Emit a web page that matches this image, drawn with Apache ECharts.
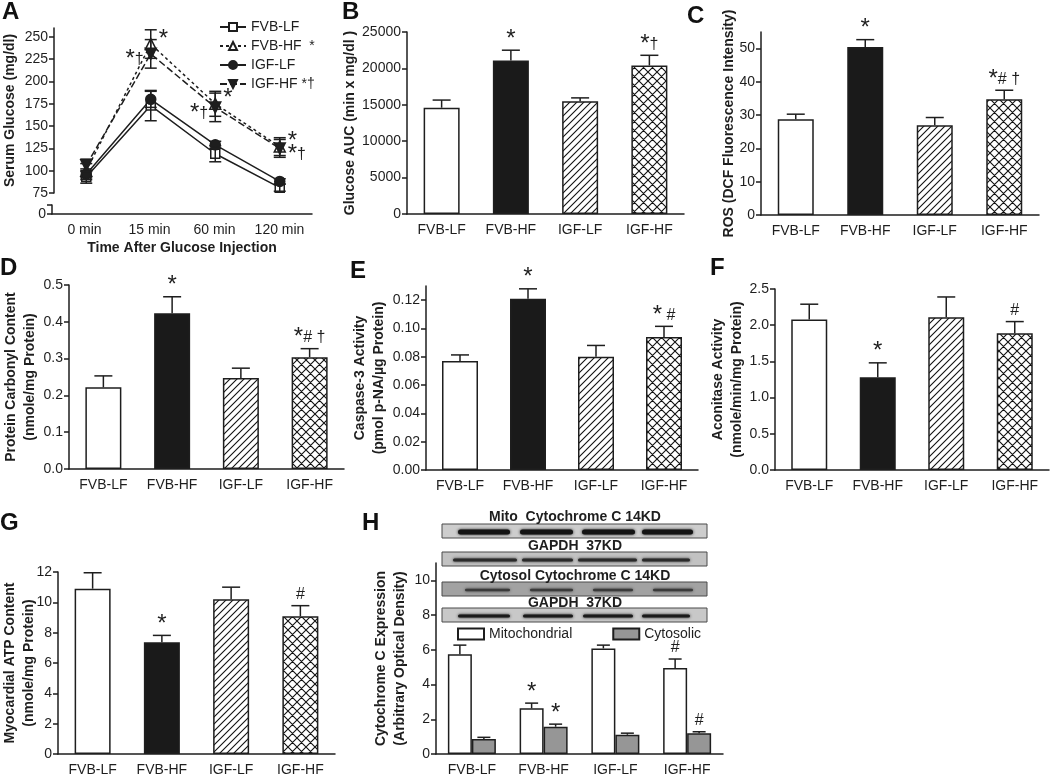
<!DOCTYPE html>
<html>
<head>
<meta charset="utf-8">
<title>Glucose tolerance, oxidative stress and cytochrome C panels</title>
<script src="https://cdn.jsdelivr.net/npm/echarts@6.0.0/dist/echarts.min.js"></script>
<style>
  html, body { margin: 0; padding: 0; background: #fff; }
  #main { width: 1050px; height: 777px; }
</style>
</head>
<body>
<div id="main"></div>
<script>
// groups / tick labels
var groups = ['FVB-LF', 'FVB-HF', 'IGF-LF', 'IGF-HF'];
var times = ['0 min', '15 min', '60 min', '120 min'];

// A - serum glucose (mg/dl), mean and SEM
var gttFvbLf = [93, 173, 119, 81];
var gttFvbLfErr = [7, 17, 9, 4];
var gttFvbHf = [100, 242, 175, 127];
var gttFvbHfErr = [8, 16, 14, 10];
var gttIgfLf = [96, 180, 129, 88];
var gttIgfLfErr = [6, 9, 4, 3];
var gttIgfHf = [106, 231, 171, 125];
var gttIgfHfErr = [7, 16, 16, 10];
var gttFvbHfMarks = ['', '*', '*', '*'];
var gttIgfHfMarks = ['', '*†', '*†', '*†'];
var gttTicks = [75, 100, 125, 150, 175, 200, 225, 250];

// B - glucose AUC
var aucVals = [14600, 21100, 15500, 20400];
var aucErr = [1050, 1400, 450, 1400];
var aucMarks = ['', '*', '', '*†'];
var aucTicks = [0, 5000, 10000, 15000, 20000, 25000];

// C - ROS
var rosVals = [28.8, 50.5, 27.0, 34.8];
var rosErr = [1.5, 2.2, 2.3, 2.7];
var rosMarks = ['', '*', '', '*# †'];
var rosTicks = [0, 10, 20, 30, 40, 50];

// D - protein carbonyl
var carbVals = [0.222, 0.423, 0.247, 0.304];
var carbErr = [0.031, 0.045, 0.027, 0.023];
var carbMarks = ['', '*', '', '*# †'];
var carbTicks = [0, 0.1, 0.2, 0.3, 0.4, 0.5];

// E - caspase-3
var caspVals = [0.077, 0.121, 0.080, 0.094];
var caspErr = [0.0043, 0.007, 0.008, 0.0075];
var caspMarks = ['', '*', '', '* #'];
var caspTicks = [0, 0.02, 0.04, 0.06, 0.08, 0.10, 0.12];

// F - aconitase
var aconVals = [2.08, 1.28, 2.11, 1.89];
var aconErr = [0.21, 0.20, 0.28, 0.16];
var aconMarks = ['', '*', '', '#'];
var aconTicks = [0, 0.5, 1.0, 1.5, 2.0, 2.5];

// G - ATP
var atpVals = [10.9, 7.36, 10.2, 9.08];
var atpErr = [1.05, 0.46, 0.8, 0.7];
var atpMarks = ['', '*', '', '#'];
var atpTicks = [0, 2, 4, 6, 8, 10, 12];

// H - cytochrome C
var cytMito = [5.75, 2.63, 6.08, 4.95];
var cytMitoErr = [0.52, 0.30, 0.19, 0.52];
var cytCyto = [0.86, 1.57, 1.11, 1.19];
var cytCytoErr = [0.10, 0.15, 0.09, 0.09];
var cytMitoMarks = ['', '*', '', '#'];
var cytCytoMarks = ['', '*', '', '#'];
var cytTicks = [0, 2, 4, 6, 8, 10];

var ink = '#1e1e1e';
var font = 'Liberation Sans, Arial, Helvetica, sans-serif';
// the asterisk is drawn bigger than the # and dagger
var markRich = {
    s: { fontSize: 24, lineHeight: 18, fontFamily: font, fill: ink, color: ink, verticalAlign: 'middle' },
    n: { fontSize: 16, lineHeight: 18, fontFamily: font, fill: ink, color: ink, verticalAlign: 'middle' }
};
function markText(m) {
    return m.split('').map(function (c) { return c === '*' ? '{s|*}' : '{n|' + c + '}'; }).join('');
}

// hatch patterns for the IGF bars
function hatch(s, cross) {
    var c = document.createElement('canvas');
    c.width = s; c.height = s;
    var g = c.getContext('2d');
    g.fillStyle = '#fff'; g.fillRect(0, 0, s, s);
    g.strokeStyle = '#111'; g.lineWidth = 1.1;
    g.beginPath();
    g.moveTo(-1, s + 1); g.lineTo(s + 1, -1);
    g.moveTo(-1, 1); g.lineTo(1, -1);
    g.moveTo(s - 1, s + 1); g.lineTo(s + 1, s - 1);
    if (cross) {
        g.moveTo(-1, -1); g.lineTo(s + 1, s + 1);
        g.moveTo(s - 1, -1); g.lineTo(s + 1, 1);
        g.moveTo(-1, s - 1); g.lineTo(1, s + 1);
    }
    g.stroke();
    return c;
}
var fills = ['#ffffff', '#1a1a1a',
    { image: hatch(7, false), repeat: 'repeat' },
    { image: hatch(9, true), repeat: 'repeat' }];

function valueAxis(gi, min, max, ticks, fmt, name, gap, ticksOnly) {
    return {
        type: 'value', gridIndex: gi, min: min, max: max,
        splitLine: { show: false },
        axisLine: { show: true, lineStyle: { color: ink, width: 1.5 } },
        axisTick: { show: true, length: 5, customValues: ticksOnly || ticks, lineStyle: { color: ink, width: 1.5 } },
        axisLabel: { color: ink, fontSize: 14, margin: 6, customValues: ticks,
                     formatter: fmt || function (v) { return String(v); } },
        name: name, nameLocation: 'middle', nameRotate: 90, nameGap: gap, nameMoveOverlap: false,
        nameTextStyle: { color: ink, fontSize: 14, fontWeight: 'bold', lineHeight: 19 }
    };
}
function catAxis(gi, cats, show) {
    return {
        type: 'category', gridIndex: gi, data: cats, show: show !== false,
        axisLine: { lineStyle: { color: ink, width: 1.5 } },
        axisTick: { alignWithLabel: true, length: 6, lineStyle: { color: ink, width: 1.5 } },
        axisLabel: { color: ink, fontSize: 14, margin: 9 }
    };
}
function barSeries(gi, vals) {
    return {
        type: 'bar', xAxisIndex: gi, yAxisIndex: gi, barWidth: 36, silent: true,
        itemStyle: { borderColor: ink, borderWidth: 1.5 },
        data: vals.map(function (v, i) { return { value: v, itemStyle: { color: fills[i] } }; })
    };
}
function errSeries(gi, vals, errs, marks, dx, cap, both) {
    return {
        type: 'custom', xAxisIndex: gi, yAxisIndex: gi, silent: true, z: 4,
        data: vals.map(function (v, i) { return [i, v, errs[i]]; }),
        encode: { x: 0, y: 1 },
        renderItem: function (params, api) {
            var i = api.value(0), v = api.value(1), e = api.value(2);
            var hi = api.coord([i, v + e]);
            var lo = api.coord([i, both ? v - e : v]);
            var x = hi[0] + dx;
            var kids = [
                { type: 'line', shape: { x1: x, y1: lo[1], x2: x, y2: hi[1] }, style: { stroke: ink, lineWidth: 1.5 } },
                { type: 'line', shape: { x1: x - cap, y1: hi[1], x2: x + cap, y2: hi[1] }, style: { stroke: ink, lineWidth: 1.5 } }
            ];
            if (both) {
                kids.push({ type: 'line', shape: { x1: x - cap, y1: lo[1], x2: x + cap, y2: lo[1] }, style: { stroke: ink, lineWidth: 1.5 } });
            }
            var m = marks ? marks[params.dataIndex] : '';
            if (m) {
                kids.push({ type: 'text', style: { text: markText(m), rich: markRich, x: x, y: hi[1] - 2,
                    align: 'center', verticalAlign: 'bottom', textAlign: 'center', textVerticalAlign: 'bottom',
                    font: '16px ' + font, fill: ink } });
            }
            return { type: 'group', children: kids };
        }
    };
}
// significance marks beside the glucose curve points
function gttMarks(vals, marks, leftSide) {
    return {
        type: 'custom', xAxisIndex: 0, yAxisIndex: 0, silent: true, z: 6,
        data: vals.map(function (v, i) { return [i, v]; }),
        encode: { x: 0, y: 1 },
        renderItem: function (params, api) {
            var i = params.dataIndex;
            var m = marks[i];
            if (!m) return;
            var p = api.coord([api.value(0), api.value(1)]);
            var left = leftSide && i < vals.length - 1;
            var x = left ? p[0] - 7 : p[0] + 8;
            var y = leftSide ? p[1] + 6 : p[1] - 5;
            return { type: 'text', style: { text: markText(m), rich: markRich, x: x, y: y,
                align: left ? 'right' : 'left', verticalAlign: 'middle',
                textAlign: left ? 'right' : 'left', textVerticalAlign: 'middle', font: '16px ' + font, fill: ink } };
        }
    };
}

var grids = [
    { left: 52, top: 28, width: 260, height: 165 },   // A
    { left: 52, top: 205, width: 260, height: 9 },    // A, axis below break
    { left: 407, top: 32, width: 277, height: 182 },  // B
    { left: 761, top: 32, width: 278, height: 183 },  // C
    { left: 69, top: 285, width: 275, height: 184 },  // D
    { left: 426, top: 286, width: 272, height: 184 }, // E
    { left: 775, top: 289, width: 274, height: 181 }, // F
    { left: 58, top: 572, width: 277, height: 182 },  // G
    { left: 436, top: 563, width: 287, height: 192 }  // H
];

var f1 = function (v) { return v.toFixed(1); };
var f2 = function (v) { return v.toFixed(2); };

var xAxes = [catAxis(0, times, false), catAxis(1, times)];
xAxes[1].name = 'Time After Glucose Injection';
xAxes[1].nameLocation = 'middle';
xAxes[1].nameGap = 27;
xAxes[1].nameTextStyle = { color: ink, fontSize: 14, fontWeight: 'bold' };
for (var g = 2; g <= 8; g++) xAxes.push(catAxis(g, groups));

var yAxes = [
    valueAxis(0, 75, 260, gttTicks, null, 'Serum Glucose (mg/dl)', 34),
    valueAxis(1, 0, 1, [0], null, '', 0, [0, 1]),
    valueAxis(2, 0, 25000, aucTicks, null, 'Glucose AUC (min x mg/dl )', 47),
    valueAxis(3, 0, 55, rosTicks, null, 'ROS (DCF Fluorescence Intensity)', 22),
    valueAxis(4, 0, 0.5, carbTicks, f1, 'Protein Carbonyl Content\n(nmole/mg Protein)', 29),
    valueAxis(5, 0, 0.13, caspTicks, f2, 'Caspase-3 Activity\n(pmol p-NA/µg Protein)', 37),
    valueAxis(6, 0, 2.5, aconTicks, f1, 'Aconitase Activity\n(nmole/min/mg Protein)', 28),
    valueAxis(7, 0, 12, atpTicks, null, 'Myocardial ATP Content\n(nmole/mg Protein)', 19),
    valueAxis(8, 0, 11, cytTicks, null, 'Cytochrome C Expression\n(Arbitrary Optical Density)', 26)
];

function lineSeries(name, data, symbol, fill, dash, size, rot) {
    return {
        name: name, type: 'line', xAxisIndex: 0, yAxisIndex: 0, data: data,
        symbol: symbol, symbolSize: size, symbolRotate: rot || 0, z: 3,
        itemStyle: { color: fill, borderColor: ink, borderWidth: 1.5 },
        lineStyle: { color: ink, width: 1.5, type: dash }
    };
}

var series = [
    lineSeries('FVB-LF', gttFvbLf, 'rect', '#fff', 'solid', 9),
    lineSeries('FVB-HF', gttFvbHf, 'triangle', '#fff', [3, 3], 11),
    lineSeries('IGF-LF', gttIgfLf, 'circle', ink, 'solid', 10),
    lineSeries('IGF-HF', gttIgfHf, 'triangle', ink, [7, 3], 11, 180),
    errSeries(0, gttFvbLf, gttFvbLfErr, null, 0, 6, true),
    errSeries(0, gttFvbHf, gttFvbHfErr, null, 0, 6, true),
    errSeries(0, gttIgfLf, gttIgfLfErr, null, 0, 6, true),
    errSeries(0, gttIgfHf, gttIgfHfErr, null, 0, 6, true),
    gttMarks(gttFvbHf, gttFvbHfMarks, false),
    gttMarks(gttIgfHf, gttIgfHfMarks, true),

    barSeries(2, aucVals), errSeries(2, aucVals, aucErr, aucMarks, 0, 9),
    barSeries(3, rosVals), errSeries(3, rosVals, rosErr, rosMarks, 0, 9),
    barSeries(4, carbVals), errSeries(4, carbVals, carbErr, carbMarks, 0, 9),
    barSeries(5, caspVals), errSeries(5, caspVals, caspErr, caspMarks, 0, 9),
    barSeries(6, aconVals), errSeries(6, aconVals, aconErr, aconMarks, 0, 9),
    barSeries(7, atpVals), errSeries(7, atpVals, atpErr, atpMarks, 0, 9),

    { name: 'Mitochondrial', type: 'bar', xAxisIndex: 8, yAxisIndex: 8, barWidth: 24, barGap: '0%', silent: true,
      data: cytMito, itemStyle: { color: '#fff', borderColor: ink, borderWidth: 1.5 } },
    { name: 'Cytosolic', type: 'bar', xAxisIndex: 8, yAxisIndex: 8, barWidth: 24, barGap: '0%', silent: true,
      data: cytCyto, itemStyle: { color: '#969696', borderColor: ink, borderWidth: 1.5 } },
    errSeries(8, cytMito, cytMitoErr, cytMitoMarks, -12, 6.5),
    errSeries(8, cytCyto, cytCytoErr, cytCytoMarks, 12, 6.5)
];

var legendMarks = { 'FVB-HF': '  *', 'IGF-HF': ' *†' };

// panel letters + western blot strips of panel H
var letters = [['A', 2, 0], ['B', 342, 0], ['C', 687, 4], ['D', 0, 256], ['E', 350, 259],
               ['F', 710, 256], ['G', 0, 511], ['H', 362, 511]];
var blots = [
    { title: 'Mito  Cytochrome C 14KD', titleY: 517, top: 524, bg: '#cdcdcd', band: '#141414', h: 5,
      lanes: [[458, 510], [520, 573], [582, 635], [642, 693]] },
    { title: 'GAPDH  37KD', titleY: 546, top: 552, bg: '#c2c2c2', band: '#2a2a2a', h: 3,
      lanes: [[453, 517], [522, 573], [578, 637], [642, 690]] },
    { title: 'Cytosol Cytochrome C 14KD', titleY: 576, top: 582, bg: '#a2a2a2', band: '#3a3a3a', h: 2.5,
      lanes: [[465, 510], [530, 573], [593, 633], [653, 693]] },
    { title: 'GAPDH  37KD', titleY: 603, top: 608, bg: '#c8c8c8', band: '#1a1a1a', h: 3,
      lanes: [[458, 510], [523, 573], [583, 633], [642, 690]] }
];
var graphics = [];
letters.forEach(function (l) {
    graphics.push({ type: 'text', x: l[1], y: l[2], z: 10,
        style: { text: l[0], font: 'bold 24px ' + font, fill: '#111', verticalAlign: 'top', textVerticalAlign: 'top' } });
});
blots.forEach(function (b) {
    graphics.push({ type: 'rect', z: 10, shape: { x: 442, y: b.top, width: 265, height: 14 },
        style: { fill: b.bg, stroke: '#4a4a4a', lineWidth: 1 } });
    b.lanes.forEach(function (ln) {
        graphics.push({ type: 'rect', z: 11, shape: { x: ln[0], y: b.top + 8 - b.h / 2, width: ln[1] - ln[0], height: b.h, r: b.h / 2 },
            style: { fill: b.band, shadowBlur: 3, shadowColor: b.band } });
    });
    graphics.push({ type: 'text', z: 11, x: 575, y: b.titleY,
        style: { text: b.title, font: 'bold 14px ' + font, fill: ink, align: 'center', verticalAlign: 'middle',
                 textAlign: 'center', textVerticalAlign: 'middle' } });
});

var chart = echarts.init(document.getElementById('main'));
chart.setOption({
    animation: false,
    backgroundColor: '#fff',
    textStyle: { fontFamily: font },
    grid: grids,
    xAxis: xAxes,
    yAxis: yAxes,
    legend: [
        { data: ['FVB-LF', 'FVB-HF', 'IGF-LF', 'IGF-HF'], orient: 'vertical', left: 219, top: 20, padding: 0,
          itemWidth: 26, itemHeight: 10, itemGap: 5, selectedMode: false,
          formatter: function (n) { return n + (legendMarks[n] || ''); },
          textStyle: { color: ink, fontSize: 14 } },
        { data: ['Mitochondrial', 'Cytosolic'], orient: 'horizontal', left: 457, top: 627, padding: 0, icon: 'rect',
          itemWidth: 26, itemHeight: 11, itemGap: 40, selectedMode: false,
          textStyle: { color: ink, fontSize: 14 } }
    ],
    graphic: graphics,
    series: series
});
</script>
</body>
</html>
